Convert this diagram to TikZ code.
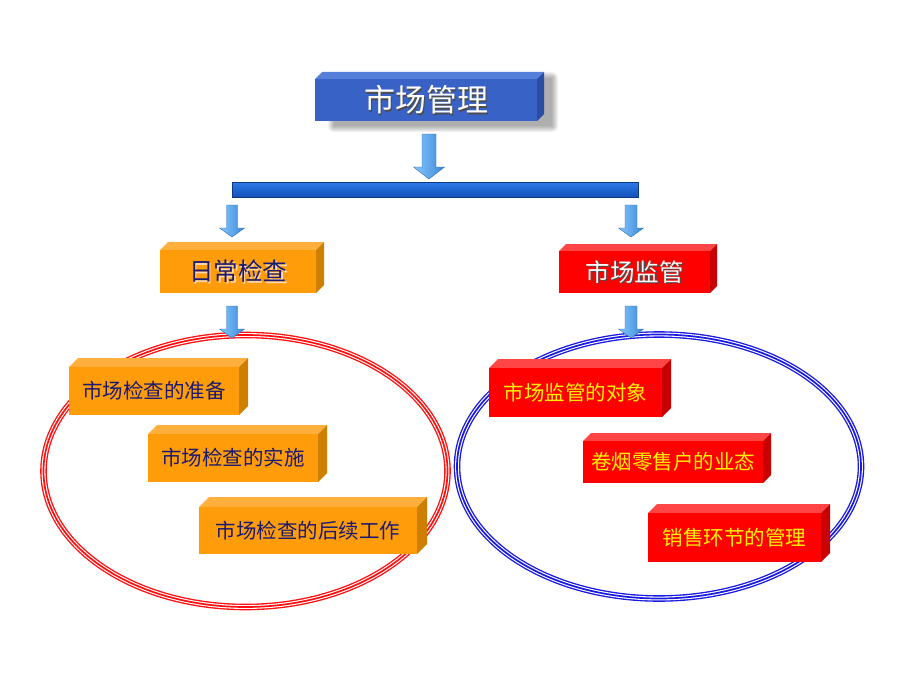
\documentclass[tikz,border=0pt]{standalone}
\usepackage{fontspec}
\setmainfont{Noto Sans CJK SC}
\definecolor{bluefront}{HTML}{3862C6}
\definecolor{bluetop}{HTML}{5580DA}
\definecolor{blueside}{HTML}{2A4DA6}
\definecolor{orangefront}{HTML}{FF9C0A}
\definecolor{orangetop}{HTML}{FFB03C}
\definecolor{orangeside}{HTML}{CF7F00}
\definecolor{redfront}{HTML}{FF0000}
\definecolor{redtop}{HTML}{FF4545}
\definecolor{redside}{HTML}{C80000}
\definecolor{navy}{HTML}{1A1A72}
\definecolor{arrowlight}{HTML}{86C6FA}
\definecolor{arrowdark}{HTML}{3A88DC}
\definecolor{bartop}{HTML}{2D7BEA}
\definecolor{barbot}{HTML}{1450B8}
\definecolor{ringred}{HTML}{FF1010}
\definecolor{ringblue}{HTML}{1A1AE0}
\tikzset{
  face/.style={inner sep=0pt, outer sep=0pt, anchor=north west},
  title txt/.style={text=white, font=\fontsize{31}{31}\selectfont},
  title shd/.style={text=black!70, font=\fontsize{31}{31}\selectfont},
  navyhead txt/.style={text=navy, font=\fontsize{24.5}{24.5}\selectfont},
  navyhead shd/.style={text=white!70!orange, font=\fontsize{24.5}{24.5}\selectfont},
  whitehead txt/.style={text=white, font=\fontsize{24.5}{24.5}\selectfont},
  whitehead shd/.style={text=black!70, font=\fontsize{24.5}{24.5}\selectfont},
  navyitem txt/.style={text=navy, font=\fontsize{20.5}{20.5}\selectfont},
  navyitem shd/.style={opacity=0, font=\fontsize{20.5}{20.5}\selectfont},
  yellowitem txt/.style={text=yellow, font=\fontsize{20.5}{20.5}\selectfont},
  yellowitem shd/.style={opacity=0, font=\fontsize{20.5}{20.5}\selectfont},
  arrowshade/.style={left color=arrowlight, right color=arrowdark, draw=arrowdark!80!black, line width=0.4pt},
}
% #1 name, #2 x1, #3 y1, #4 x2, #5 y2, #6 depth, #7 colour prefix, #8 text kind, #9 text
\newcommand\cubebox[9]{%
  \fill[#7top] (#2,#3) -- (#2+#6,#3-#6) -- (#4+#6,#3-#6) -- (#4,#3) -- cycle;
  \fill[#7side] (#4,#3) -- (#4+#6,#3-#6) -- (#4+#6,#5-#6) -- (#4,#5) -- cycle;
  \node[face, fill=#7front, minimum width={(#4-#2)*1pt}, minimum height={(#5-#3)*1pt}] (#1) at (#2,#3) {};
  \node[#8 shd, inner sep=0pt] (#1s) at ([shift={(1.6,1.6)}]#1.center) {#9};
  \node[#8 txt, inner sep=0pt] (#1t) at (#1.center) {#9};
}
% #1 cx, #2 ytop, #3 yhead, #4 ytip, #5 shaft half width, #6 head half width
\newcommand\blockarr[6]{%
  \shade[arrowshade] (#1-#5,#2) -- (#1+#5,#2) -- (#1+#5,#3) -- (#1+#6,#3) -- (#1,#4)
    -- (#1-#6,#3) -- (#1-#5,#3) -- cycle;
}
% #1 colour, #2 cx, #3 cy, #4 rx, #5 ry
\newcommand\ring[5]{%
  \draw[#1, line width=6.6pt] (#2,#3) ellipse [x radius=#4, y radius=#5];
  \draw[white, line width=3.9pt] (#2,#3) ellipse [x radius=#4, y radius=#5];
  \draw[#1, line width=1.7pt] (#2,#3) ellipse [x radius=#4, y radius=#5];
}
\begin{document}
\begin{tikzpicture}[x=1pt,y=-1pt]
\useasboundingbox (0,0) rectangle (920,690);
\fill[white] (0,0) rectangle (920,690);

% shadow of the title box
\foreach \i in {0,...,6}
  \fill[black, opacity=0.05, rounded corners=\i pt] (334-\i,78-\i) rectangle (552+\i,126+\i);

\cubebox{title}{315}{79}{537}{121}{7}{blue}{title}{市场管理}

% connector bar
\shade[top color=bartop, bottom color=barbot] (232,182) rectangle (638,197);
\node[inner sep=0pt, minimum width=406pt, minimum height=15pt, anchor=north west, draw=barbot!70!black, line width=0.5pt] (bar) at (232,182) {};

\blockarr{429}{134}{167}{179}{7}{15.5}
\blockarr{232}{205}{228}{237}{5.5}{12.5}
\blockarr{631}{205}{228}{237}{6}{12.5}

\cubebox{daily}{160}{250}{316}{293}{8}{orange}{navyhead}{日常检查}
\cubebox{super}{559}{251}{710}{293}{7}{red}{whitehead}{市场监管}

% rings
\ring{ringred}{245.5}{471}{202}{136}
\ring{ringblue}{659}{466.5}{202}{132}

\blockarr{232}{306}{329}{338}{5.5}{12.5}
\blockarr{631}{306}{329}{338}{6}{12.5}

\cubebox{prep}{69}{367}{239}{415}{9}{orange}{navyitem}{市场检查的准备}
\cubebox{impl}{148}{434}{318}{482}{9}{orange}{navyitem}{市场检查的实施}
\cubebox{follow}{199}{507}{417}{554}{10}{orange}{navyitem}{市场检查的后续工作}

\cubebox{obj}{489}{368}{662}{417}{9}{red}{yellowitem}{市场监管的对象}
\cubebox{form}{583}{441}{763}{483}{8}{red}{yellowitem}{卷烟零售户的业态}
\cubebox{sales}{648}{513}{821}{562}{9}{red}{yellowitem}{销售环节的管理}
\end{tikzpicture}
\end{document}
